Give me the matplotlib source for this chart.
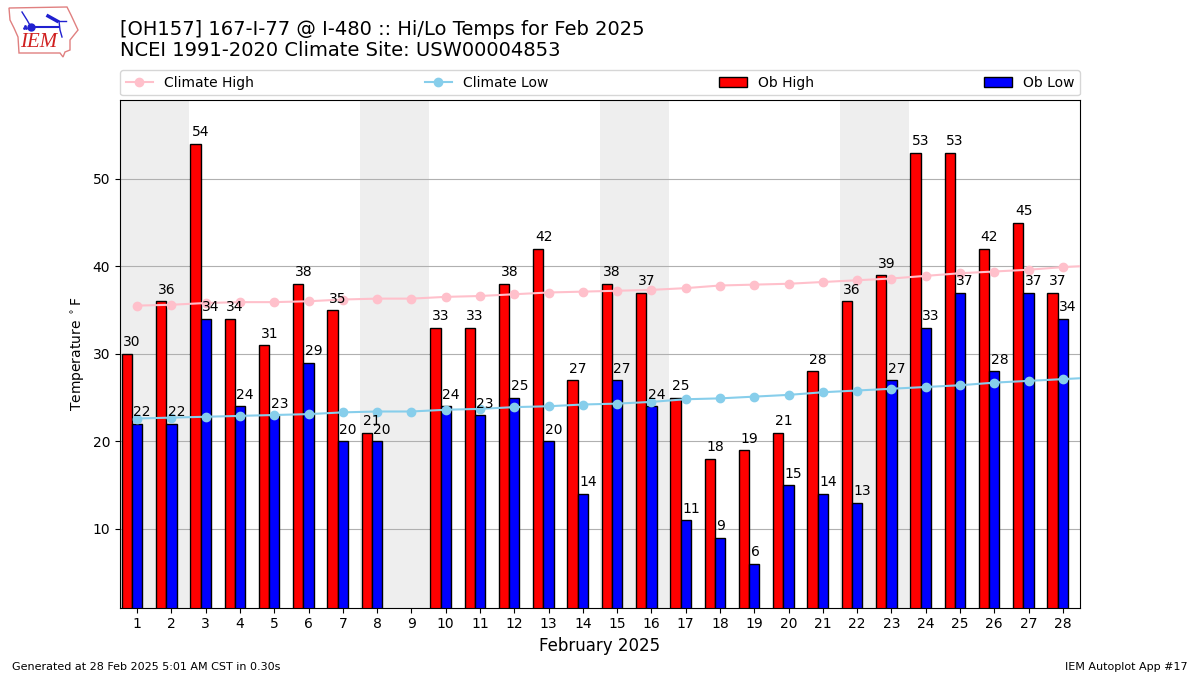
import matplotlib
matplotlib.use('Agg')
from matplotlib import pyplot as plt
from matplotlib.patches import Polygon
import numpy as np

days = list(range(1, 29))
ob_high = [30, 36, 54, 34, 31, 38, 35, 21, None, 33, 33, 38, 42, 27, 38, 37, 25, 18, 19, 21, 28, 36, 39, 53, 53, 42, 45, 37]
ob_low = [22, 22, 34, 24, 23, 29, 20, 20, None, 24, 23, 25, 20, 14, 27, 24, 11, 9, 6, 15, 14, 13, 27, 33, 37, 28, 37, 34]
# climate runs one day past the month, the axes clip it
clim_days = list(range(1, 30))
clim_high = [35.5, 35.6, 35.8, 35.9, 35.9, 36.0, 36.2, 36.3, 36.3, 36.5, 36.6, 36.8, 37.0, 37.1, 37.2, 37.3, 37.5, 37.8, 37.9, 38.0, 38.2, 38.4, 38.6, 38.9, 39.2, 39.4, 39.6, 39.9, 40.1]
clim_low = [22.6, 22.7, 22.8, 22.9, 23.0, 23.1, 23.3, 23.4, 23.4, 23.6, 23.7, 23.9, 24.0, 24.2, 24.3, 24.5, 24.8, 24.9, 25.1, 25.3, 25.6, 25.8, 26.0, 26.2, 26.4, 26.7, 26.9, 27.1, 27.3]
weekends = [(0.5, 2.5), (7.5, 9.5), (14.5, 16.5), (21.5, 23.5)]
yticks = [10, 20, 30, 40, 50]

fig = plt.figure(figsize=(12, 6.75), dpi=100)
ax = fig.add_axes([0.1, 67.5 / 675, 0.8, 507.5 / 675])

x = np.array(days, dtype=float)
hi = np.array([np.nan if v is None else v for v in ob_high], dtype=float)
lo = np.array([np.nan if v is None else v for v in ob_low], dtype=float)

for start, end in weekends:
    ax.axvspan(start, end, color='#EEEEEE', lw=0, zorder=0)

ax.bar(x - 0.3, hi, width=0.3, color='r', edgecolor='k', label='Ob High', zorder=2)
ax.bar(x, lo, width=0.3, color='b', edgecolor='k', label='Ob Low', zorder=2)
ax.plot(clim_days, clim_high, color='pink', marker='o', label='Climate High', zorder=3)
ax.plot(clim_days, clim_low, color='skyblue', marker='o', label='Climate Low', zorder=3)

for d, h, l in zip(days, ob_high, ob_low):
    if h is not None:
        ax.text(d - 0.4, h + 0.5, str(h), ha='left', va='bottom', fontsize=10, zorder=5)
    if l is not None:
        ax.text(d - 0.11, l + 0.5, str(l), ha='left', va='bottom', fontsize=10, zorder=5)

ax.set_xlim(0.5, 28.5)
ax.set_ylim(1, 59)
ax.set_xticks(days)
ax.set_yticks(yticks)
ax.set_axisbelow(True)
ax.grid(True, axis='y')
ax.set_xlabel('February 2025', fontsize=12)
ax.set_ylabel(r'Temperature $^\circ$F')

handles, labels = ax.get_legend_handles_labels()
order = [labels.index(n) for n in ['Climate High', 'Climate Low', 'Ob High', 'Ob Low']]
ax.legend([handles[i] for i in order], [labels[i] for i in order], ncol=4, mode='expand',
          loc='lower left', bbox_to_anchor=(0, 1.009, 1, 0.05), borderaxespad=0, fontsize=10)

fig.text(0.1, 0.9115, '[OH157] 167-I-77 @ I-480 :: Hi/Lo Temps for Feb 2025\nNCEI 1991-2020 Climate Site: USW00004853',
         fontsize=14, ha='left', va='bottom', linespacing=1.1)
fig.text(0.01, 0.0125, 'Generated at 28 Feb 2025 5:01 AM CST in 0.30s', fontsize=8, ha='left', va='center')
fig.text(0.99, 0.0125, 'IEM Autoplot App #17', fontsize=8, ha='right', va='center')

# logo, axes in reference pixels
logo = fig.add_axes([0, 1 - 60 / 675, 80 / 1200, 60 / 675])
logo.set_xlim(0, 80)
logo.set_ylim(60, 0)
logo.axis('off')
outline = [(9, 8), (67, 7), (71, 15), (78, 30), (70, 40), (70, 50), (65, 52), (63, 57), (60, 53), (19, 53), (18, 37), (14, 28), (10, 20)]
logo.add_patch(Polygon(outline, closed=True, fill=False, edgecolor='#e08080', lw=1))
logo.plot([31, 58], [27, 27], color='#2020d0', lw=1.5)
logo.plot([22, 27, 31], [12, 20, 27], color='#2020d0', lw=1)
logo.plot([31], [27], 'o', color='#2020d0', ms=5)
logo.plot([48, 57], [16, 21], color='#2020d0', lw=2.5)
logo.plot([57, 66], [21, 21], color='#2020d0', lw=1)
logo.plot([59, 60, 62], [21, 30, 37], color='#2020d0', lw=1)
logo.plot([24, 26, 25], [28, 28, 26], '.', color='#2020d0', ms=2)
logo.text(20, 52, 'IEM', color='#d02020', fontsize=15, family='Liberation Serif', style='italic', ha='left', va='bottom')

fig.savefig('out.png', dpi=100)
